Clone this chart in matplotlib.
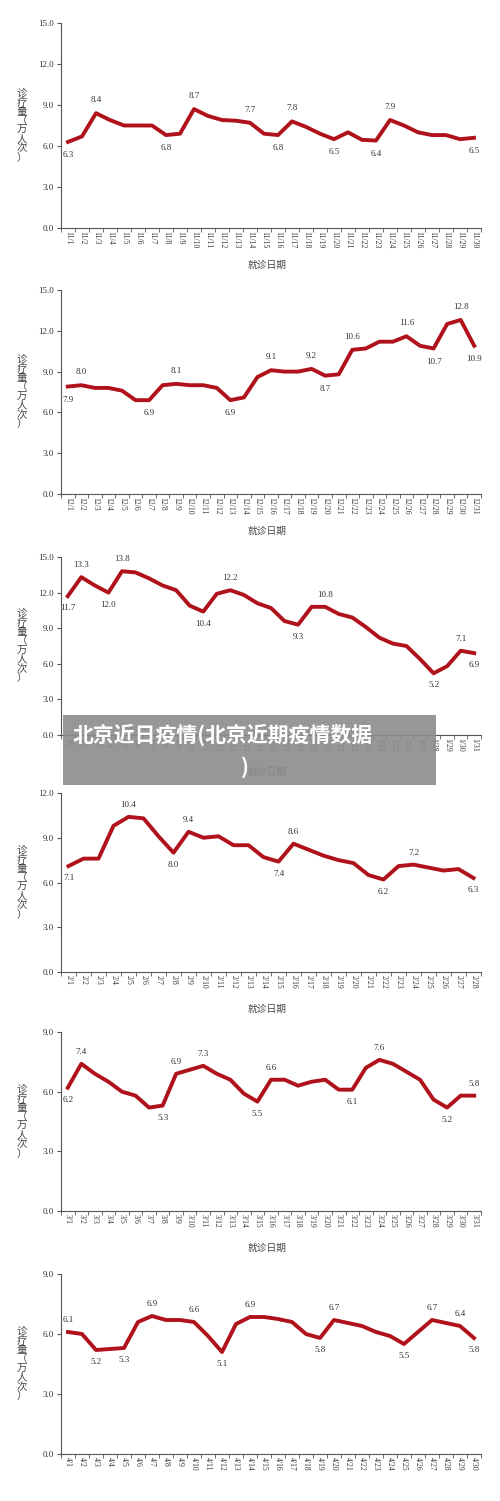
import numpy as np
import matplotlib
matplotlib.use("Agg")
import matplotlib.pyplot as plt

FONT = ["Liberation Serif", "Noto Sans CJK SC"]
CJK = ["Noto Sans CJK SC", "DejaVu Sans"]
plt.rcParams["font.family"] = FONT

nov = [6.3, 6.7, 8.4, 7.9, 7.5, 7.5, 7.5, 6.8, 6.9, 8.7, 8.2, 7.9, 7.85, 7.7, 6.9,
       6.8, 7.8, 7.4, 6.9, 6.5, 7.0, 6.45, 6.4, 7.9, 7.5, 7.0, 6.8, 6.8, 6.5, 6.6]
nov_labels = {0: ("6.3", -1), 2: ("8.4", 1), 7: ("6.8", -1), 9: ("8.7", 1), 13: ("7.7", 1),
              15: ("6.8", -1), 16: ("7.8", 1), 19: ("6.5", -1), 22: ("6.4", -1),
              23: ("7.9", 1), 29: ("6.5", -1)}

dec = [7.9, 8.0, 7.8, 7.8, 7.6, 6.9, 6.9, 8.0, 8.1, 8.0, 8.0, 7.8, 6.9, 7.1, 8.6, 9.1,
       9.0, 9.0, 9.2, 8.7, 8.8, 10.6, 10.7, 11.2, 11.2, 11.6, 10.9, 10.7, 12.5, 12.8, 10.9]
dec_labels = {0: ("7.9", -1), 1: ("8.0", 1), 6: ("6.9", -1), 8: ("8.1", 1), 12: ("6.9", -1),
              15: ("9.1", 1), 18: ("9.2", 1), 19: ("8.7", -1), 21: ("10.6", 1),
              25: ("11.6", 1), 27: ("10.7", -1), 29: ("12.8", 1), 30: ("10.9", -1)}

jan = [11.7, 13.3, 12.6, 12.0, 13.8, 13.7, 13.2, 12.6, 12.2, 10.9, 10.4, 11.9, 12.2, 11.8,
       11.1, 10.7, 9.6, 9.3, 10.8, 10.8, 10.2, 9.9, 9.1, 8.2, 7.7, 7.5, 6.4, 5.2, 5.8, 7.1, 6.9]
jan_labels = {0: ("11.7", -1), 1: ("13.3", 1), 3: ("12.0", -1), 4: ("13.8", 1),
              10: ("10.4", -1), 12: ("12.2", 1), 17: ("9.3", -1), 19: ("10.8", 1),
              27: ("5.2", -1), 29: ("7.1", 1), 30: ("6.9", -1)}

feb = [7.1, 7.6, 7.6, 9.8, 10.4, 10.3, 9.1, 8.0, 9.4, 9.0, 9.1, 8.5, 8.5, 7.7, 7.4, 8.6,
       8.2, 7.8, 7.5, 7.3, 6.5, 6.2, 7.1, 7.2, 7.0, 6.8, 6.9, 6.3]
feb_labels = {0: ("7.1", -1), 4: ("10.4", 1), 7: ("8.0", -1), 8: ("9.4", 1), 14: ("7.4", -1),
              15: ("8.6", 1), 21: ("6.2", -1), 23: ("7.2", 1), 27: ("6.3", -1)}

mar = [6.2, 7.4, 6.9, 6.5, 6.0, 5.8, 5.2, 5.3, 6.9, 7.1, 7.3, 6.9, 6.6, 5.9, 5.5, 6.6,
       6.6, 6.3, 6.5, 6.6, 6.1, 6.1, 7.2, 7.6, 7.4, 7.0, 6.6, 5.6, 5.2, 5.8, 5.8]
mar_labels = {0: ("6.2", -1), 1: ("7.4", 1), 7: ("5.3", -1), 8: ("6.9", 1), 10: ("7.3", 1),
              14: ("5.5", -1), 15: ("6.6", 1), 21: ("6.1", -1), 23: ("7.6", 1),
              28: ("5.2", -1), 30: ("5.8", 1)}

apr = [6.1, 6.0, 5.2, 5.25, 5.3, 6.6, 6.9, 6.7, 6.7, 6.6, 5.9, 5.1, 6.5, 6.85, 6.85, 6.75,
       6.6, 6.0, 5.8, 6.7, 6.55, 6.4, 6.1, 5.9, 5.5, 6.1, 6.7, 6.55, 6.4, 5.8]
apr_labels = {0: ("6.1", 1), 2: ("5.2", -1), 4: ("5.3", -1), 6: ("6.9", 1), 9: ("6.6", 1),
              11: ("5.1", -1), 13: ("6.9", 1), 18: ("5.8", -1), 19: ("6.7", 1),
              24: ("5.5", -1), 26: ("6.7", 1), 28: ("6.4", 1), 29: ("5.8", -1)}

# month, values, point labels, y max, axes top / bottom in pixels, x label shown
panels = [
    (11, nov, nov_labels, 15, 23, 228, True),
    (12, dec, dec_labels, 15, 290, 494, True),
    (1, jan, jan_labels, 15, 557, 735, True),
    (2, feb, feb_labels, 12, 793, 972, True),
    (3, mar, mar_labels, 9, 1032, 1211, True),
    (4, apr, apr_labels, 9, 1274, 1454, False),
]

W, H = 500, 1501
fig = plt.figure(figsize=(W / 100, H / 100), dpi=100)
red = "#b0121b"
grey = "#555555"

for month, vals, labels, ymax, top, bot, show_xlabel in panels:
    ax = fig.add_axes([61 / W, 1 - bot / H, 420 / W, (bot - top) / H])
    n = len(vals)
    x = np.arange(n)
    ax.plot(x, vals, color=red, lw=2.8, solid_joinstyle="round")
    ax.set_xlim(-0.5, n - 0.5)
    ax.set_ylim(0, ymax)
    yt = np.arange(0, ymax + 0.1, 3)
    ax.set_yticks(yt)
    ax.set_yticklabels([f"{v:.1f}" for v in yt], fontsize=6.5, color="#333333")
    ax.set_xticks(x)
    ax.set_xticklabels([f"{month}/{d + 1}" for d in range(n)], rotation=-90, fontsize=5.5, color="#333333")
    ax.set_xticks(np.arange(-0.5, n, 1), minor=True)
    ax.tick_params(axis="x", which="major", length=0, pad=2)
    ax.tick_params(axis="x", which="minor", length=3, color=grey)
    ax.tick_params(axis="y", length=3, color=grey, pad=2)
    for s in ("top", "right"):
        ax.spines[s].set_visible(False)
    for s in ("left", "bottom"):
        ax.spines[s].set_color(grey)
        ax.spines[s].set_linewidth(0.8)
    off = ymax * 0.045
    for i, (txt, d) in labels.items():
        ax.text(i, vals[i] + d * off, txt, ha="center", va="bottom" if d > 0 else "top",
                fontsize=6.5, color="#333333")
    fig.text(22 / W, 1 - ((top + bot) / 2) / H, "诊\n疗\n量\n（\n万\n人\n次\n）", ha="center",
             va="center", fontsize=7.5, color="#444444", linespacing=0.9, family=CJK)
    if show_xlabel:
        fig.text(267 / W, 1 - (bot + 37) / H, "就诊日期", ha="center", va="center", fontsize=7,
                 color="#444444", family=CJK)

# grey banner overlaid on the January panel
fig.patches.append(plt.Rectangle((63 / W, 1 - 785 / H), 373 / W, 70 / H, transform=fig.transFigure,
                                 facecolor="#8c8c8c", alpha=0.9, edgecolor="none", zorder=5))
fig.text(73 / W, 1 - 735 / H, "北京近日疫情(北京近期疫情数据", fontsize=15, fontweight="bold",
         color="white", va="center", ha="left", zorder=6, family=CJK)
fig.text(245 / W, 1 - 767 / H, ")", fontsize=15, fontweight="bold", color="white", va="center",
         ha="center", zorder=6, family=CJK)

fig.savefig("out.png", dpi=100, facecolor="white")
